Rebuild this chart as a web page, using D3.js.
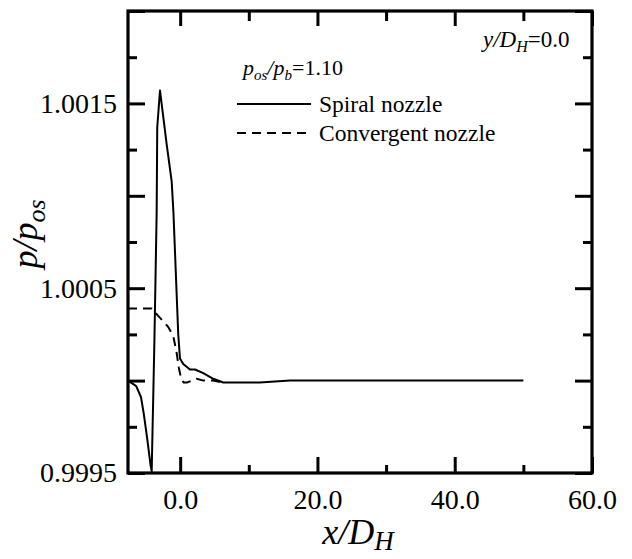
<!DOCTYPE html>
<html>
<head>
<meta charset="utf-8">
<script src="https://cdn.jsdelivr.net/npm/d3@7/dist/d3.min.js"></script>
<style>
  html, body { margin: 0; padding: 0; background: #fff; }
  svg { display: block; }
  text { font-family: "Liberation Serif", "Times New Roman", serif; fill: #000; }
</style>
</head>
<body>
<svg id="chart" width="632" height="559" font-family="Liberation Serif, serif"></svg>
<script>
// ---- data ----
const spiralX = [-7.6, -6.4, -5.7, -5.3, -4.85, -4.3, -4.15, -3.75, -3.42, -3.34, -2.94, -1.97, -1.24, -0.98, -0.28, -0.03, 0.45, 1.43, 2.16, 3.37, 4.82, 6.28, 11.6, 16.0, 50.0];
const spiralY = [1.00000, 0.99997, 0.99991, 0.99982, 0.99970, 0.99954, 0.99951, 1.00022, 1.00092, 1.00137, 1.00157, 1.00128, 1.00108, 1.00091, 1.00025, 1.00012, 1.00009, 1.00006, 1.00006, 1.00004, 1.00001, 0.99999, 0.99999, 1.00000, 1.00000];
const convX = [-7.6, -4.15, -3.2, -2.2, -1.73, -1.0, -0.51, -0.2, 0.15, 0.5, 1.0, 2.4, 3.4, 4.8, 6.1];
const convY = [1.00039, 1.00039, 1.00035, 1.00031, 1.00029, 1.00024, 1.00015, 1.00007, 1.00001, 0.99999, 0.99999, 1.00001, 1.00000, 1.00000, 0.99999];
const seriesNames = ["Spiral nozzle", "Convergent nozzle"];
const xMajorTicks = [0, 20, 40, 60];
const xMinorTicks = [10, 30, 50];
const yLabelTicks = [0.9995, 1.0005, 1.0015];
const yMajorTicks = [0.9995, 1.0000, 1.0005, 1.0010, 1.0015, 1.0020];
const yMinorTicks = [0.99975, 1.00025, 1.00075, 1.00125, 1.00175];
const xDomain = [-7.6, 60];
const yDomain = [0.9995, 1.002];

// ---- layout ----
const FONT = "Liberation Serif, Times New Roman, serif";
const L = 128, R = 592, T = 11, B = 473;
const svg = d3.select("#chart");
svg.append("rect").attr("width", 632).attr("height", 559).attr("fill", "#fff");

const x = d3.scaleLinear().domain(xDomain).range([L, R]);
const y = d3.scaleLinear().domain(yDomain).range([B, T]);

const majLen = 17, minLen = 9;
function styleAxis(g) {
  g.attr("font-family", FONT);
  g.select(".domain").remove();
  g.selectAll(".tick line").attr("stroke", "#000").attr("stroke-width", 3);
  g.selectAll(".tick text").attr("font-size", 28).attr("fill", "#000").attr("font-family", FONT);
}
// bottom
svg.append("g").attr("transform", `translate(0,${B})`)
  .call(d3.axisBottom(x).tickValues(xMajorTicks).tickSize(-16).tickPadding(16).tickFormat(d3.format(".1f")))
  .call(styleAxis);
svg.append("g").attr("transform", `translate(0,${B})`)
  .call(d3.axisBottom(x).tickValues(xMinorTicks).tickSize(-8).tickFormat(""))
  .call(styleAxis);
// top
svg.append("g").attr("transform", `translate(0,${T})`)
  .call(d3.axisTop(x).tickValues(xMajorTicks).tickSize(-15).tickFormat(""))
  .call(styleAxis);
svg.append("g").attr("transform", `translate(0,${T})`)
  .call(d3.axisTop(x).tickValues(xMinorTicks).tickSize(-10).tickFormat(""))
  .call(styleAxis);
// left
svg.append("g").attr("transform", `translate(${L},0)`)
  .call(d3.axisLeft(y).tickValues(yMajorTicks).tickSize(-majLen).tickFormat(""))
  .call(styleAxis);
svg.append("g").attr("transform", `translate(${L},0)`)
  .call(d3.axisLeft(y).tickValues(yMinorTicks).tickSize(-minLen).tickFormat(""))
  .call(styleAxis);
svg.append("g").attr("transform", `translate(${L},0)`)
  .call(d3.axisLeft(y).tickValues(yLabelTicks).tickSize(0).tickPadding(11).tickFormat(d3.format(".4f")))
  .call(styleAxis);
// right
svg.append("g").attr("transform", `translate(${R},0)`)
  .call(d3.axisRight(y).tickValues(yMajorTicks).tickSize(-majLen).tickFormat(""))
  .call(styleAxis);
svg.append("g").attr("transform", `translate(${R},0)`)
  .call(d3.axisRight(y).tickValues(yMinorTicks).tickSize(-minLen).tickFormat(""))
  .call(styleAxis);

// frame
svg.append("rect").attr("x", L).attr("y", T).attr("width", R - L).attr("height", B - T)
  .attr("fill", "none").attr("stroke", "#000").attr("stroke-width", 3.2);

// ---- lines ----
const line = d3.line().x(d => x(d[0])).y(d => y(d[1]));
svg.append("clipPath").attr("id", "clip").append("rect")
  .attr("x", L).attr("y", T - 2).attr("width", R - L).attr("height", B - T + 4);
const spiral = spiralX.map((v, i) => [v, spiralY[i]]);
const conv = convX.map((v, i) => [v, convY[i]]);
svg.append("path").datum(conv).attr("d", line).attr("fill", "none")
  .attr("stroke", "#000").attr("stroke-width", 2).attr("stroke-dasharray", "9,6")
  .attr("clip-path", "url(#clip)");
svg.append("path").datum(spiral).attr("d", line).attr("fill", "none")
  .attr("stroke", "#000").attr("stroke-width", 2).attr("stroke-linejoin", "round")
  .attr("clip-path", "url(#clip)");

// ---- legend ----
const legend = svg.append("g").attr("font-family", FONT);
[[0, null], [1, "9,6"]].forEach(([i, dash]) => {
  const yy = i === 0 ? 104 : 133;
  const ln = legend.append("line").attr("x1", 237).attr("x2", 311).attr("y1", yy).attr("y2", yy)
    .attr("stroke", "#000").attr("stroke-width", 2);
  if (dash) ln.attr("stroke-dasharray", dash);
  legend.append("text").attr("x", 319).attr("y", yy + 8).attr("font-size", 23.5)
    .attr("font-family", FONT).text(seriesNames[i]);
});

// ---- annotations ----
const a1 = svg.append("text").attr("x", 243).attr("y", 75).attr("font-size", 22).attr("font-family", FONT);
a1.append("tspan").attr("font-style", "italic").text("p");
a1.append("tspan").attr("font-style", "italic").attr("font-size", 15).attr("dy", 5).text("os");
a1.append("tspan").attr("font-style", "italic").attr("dy", -5).text("/p");
a1.append("tspan").attr("font-style", "italic").attr("font-size", 15).attr("dy", 5).text("b");
a1.append("tspan").attr("dy", -5).text("=1.10");

const a2 = svg.append("text").attr("x", 483).attr("y", 47).attr("font-size", 23).attr("font-family", FONT);
a2.append("tspan").attr("font-style", "italic").text("y/D");
a2.append("tspan").attr("font-style", "italic").attr("font-size", 16).attr("dy", 5).text("H");
a2.append("tspan").attr("dy", -5).text("=0.0");

// ---- axis titles ----
const xt = svg.append("text").attr("x", 358).attr("y", 544).attr("text-anchor", "middle")
  .attr("font-size", 36).attr("font-family", FONT);
xt.append("tspan").attr("font-style", "italic").text("x/D");
xt.append("tspan").attr("font-style", "italic").attr("font-size", 27).attr("dy", 6).text("H");

const yt = svg.append("text").attr("transform", "translate(37,234) rotate(-90)")
  .attr("text-anchor", "middle").attr("font-size", 36).attr("font-family", FONT);
yt.append("tspan").attr("font-style", "italic").text("p/p");
yt.append("tspan").attr("font-style", "italic").attr("font-size", 26).attr("dy", 8).text("os");
</script>
</body>
</html>
